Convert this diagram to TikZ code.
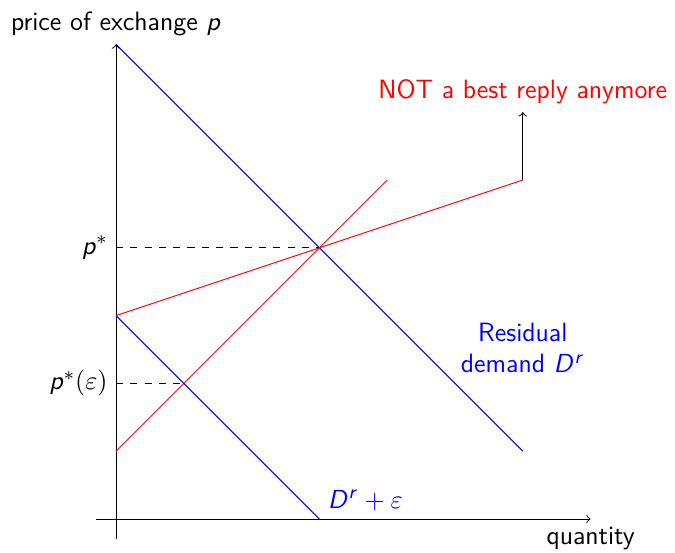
\documentclass[tikz,border=0pt]{standalone}
\renewcommand{\familydefault}{\sfdefault}
\DeclareSymbolFont{sansletters}{OT1}{cmss}{m}{sl}
\DeclareMathSymbol{p}{\mathalpha}{sansletters}{`p}
\DeclareMathSymbol{D}{\mathalpha}{sansletters}{`D}
\DeclareMathSymbol{r}{\mathalpha}{sansletters}{`r}
\begin{document}
\begin{tikzpicture}[
  font=\fontsize{11.1}{13.1}\selectfont,
  axis/.style={->},
  curveblue/.style={blue},
  curvered/.style={red},
  guide/.style={dashed},
  lbl/.style={}
]
\useasboundingbox (-1.711,-0.487) rectangle (8.245,7.655);
% coordinates
\coordinate (O) at (0,0);
\coordinate (ybot) at (0,-0.3);
\coordinate (ytop) at (0,7);
\coordinate (xleft) at (-0.3,0);
\coordinate (xright) at (7,0);
\coordinate (b1) at (0,7);
\coordinate (b2) at (6,1);
\coordinate (r1) at (0,1);
\coordinate (r2) at (4,5);
\coordinate (s1) at (0,3);
\coordinate (s2) at (6,5);
\coordinate (s3) at (6,6);
\coordinate (e1) at (0,3);
\coordinate (e2) at (3,0);
\coordinate (pstar) at (0,4);
\coordinate (X) at (3,4);
\coordinate (peps) at (0,2);
\coordinate (Y) at (1,2);
% axes
\draw[axis] (ybot) -- (ytop) node[above, lbl] (ylab) {price of exchange $p$};
\draw[axis] (xleft) -- (xright) node[below, lbl] (xlab) {quantity};
% curves
\draw[curveblue] (b1) -- (b2);
\draw[curvered] (r1) -- (r2);
\draw[curvered] (s1) -- (s2);
\draw[axis] (s2) -- (s3) node[above, red, lbl] (notlab) {NOT a best reply anymore};
\draw[curveblue] (e1) -- (e2);
\node[above right, blue, lbl] (elab) at (e2) {$D^r+\varepsilon$};
\node[blue, align=center, lbl] (rlab) at (6,2.52) {Residual\\demand $D^r$};
% guides
\draw[guide] (pstar) -- (X);
\draw[guide] (peps) -- (Y);
\node[left] (pslab) at (pstar) {$p^*$};
\node[left] (pelab) at (peps) {$p^*(\varepsilon)$};
\end{tikzpicture}
\end{document}
